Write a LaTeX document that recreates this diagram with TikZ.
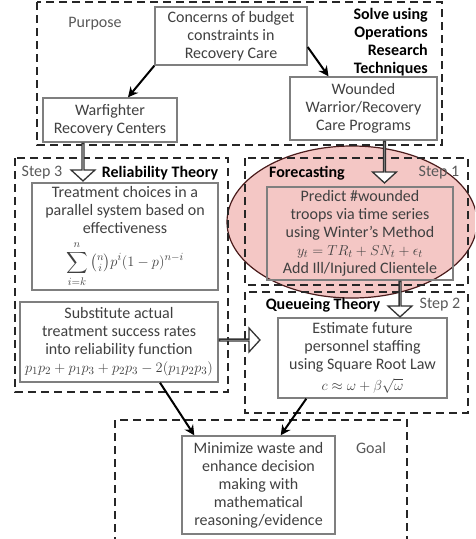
\documentclass[tikz,border=0pt]{standalone}
\usepackage{amsmath, amssymb}
\usepackage{fontspec}
\setmainfont{Carlito}
\usepackage{tikz}
\usetikzlibrary{arrows.meta, positioning, calc, shapes.arrows}
\definecolor{boxc}{HTML}{7F7F7F}
\definecolor{txtc}{HTML}{404040}
\definecolor{lblc}{HTML}{595959}
\definecolor{ellc}{HTML}{F4C7C5}
\definecolor{elld}{HTML}{4A1C1C}
\newcommand{\fatarrow}[2]{%
  \path let \p1=($(#2)-(#1)$), \n1={veclen(\x1,\y1)} in
    (#1) -- (#2) node[fatarr, pos=0, sloped, allow upside down,
      anchor=tail, minimum height=\n1] {};
}
\newcommand{\formula}{\fontsize{15}{17}\selectfont}

\begin{document}
\begin{tikzpicture}[x=1pt, y=-1pt, >={Stealth[length=10pt, width=10pt]},
    font=\fontsize{16}{18}\selectfont,
    box/.style={draw=boxc, text=txtc, align=center, inner sep=1pt,
      line width=1.4pt},
    region/.style={draw=black!85, line width=2pt, dash pattern=on 8pt off 5pt},
    plainlbl/.style={text=lblc, inner sep=0pt},
    boldlbl/.style={font=\fontsize{16}{18}\selectfont\bfseries, inner sep=0pt},
    fatarr/.style={single arrow, draw=black!80, fill=white, line width=1.3pt,
      minimum width=24pt, single arrow head extend=8pt,
      single arrow tip angle=95, inner sep=0pt},
    link/.style={->, black, line width=2pt}]
  \useasboundingbox (0,0) rectangle (475,539);
  \clip (0,0) rectangle (475,539);

  % highlighted forecasting step
  \draw[fill=ellc, draw=elld, line width=1.2pt]
    (352,222) ellipse [x radius=125, y radius=76];

  % dashed groups
  \draw[region] (37,2) rectangle (442,145);
  \draw[region] (15,158) rectangle (228,392);
  \draw[region] (245,158) rectangle (468,285);
  \draw[region] (245,292) rectangle (468,413);
  \draw[region] (115,545) -- (115,420) -- (407,420) -- (407,545);

  % group labels
  \node[plainlbl] (purpose) at (95,24) {Purpose};
  \node[boldlbl, align=right, anchor=east] (solve) at (428,42.5)
    {Solve using\\Operations\\Research\\Techniques};
  \node[plainlbl] (step3) at (42,173) {Step 3};
  \node[boldlbl] (relia) at (160,173) {Reliability Theory};
  \node[boldlbl] (forec) at (307,173) {Forecasting};
  \node[plainlbl] (step1) at (439,173) {Step 1};
  \node[boldlbl] (queue) at (323,305) {Queueing Theory};
  \node[plainlbl] (step2) at (440,305) {Step 2};
  \node[plainlbl] (goal) at (371,448) {Goal};

  % boxes
  \node[box, minimum width=152, minimum height=58] (concerns) at (231,36)
    {Concerns of budget\\constraints in\\Recovery Care};
  \node[box, minimum width=134, minimum height=44] (warf) at (110,120)
    {Warfighter\\Recovery Centers};
  \node[box, minimum width=147, minimum height=63] (wound) at (363.5,108.5)
    {Wounded\\Warrior/Recovery\\Care Programs};
  \node[box, minimum width=186, minimum height=107] (treat) at (125,236.5)
    {Treatment choices in a\\parallel system based on\\effectiveness\\[7pt]
     {\formula$\displaystyle\sum_{i=k}^{n}\tbinom{n}{i}p^i(1-p)^{n-i}$}};
  \node[box, minimum width=198, minimum height=80] (subst) at (119,342)
    {Substitute actual\\treatment success rates\\into reliability function\\
     {\formula$p_1p_2+p_1p_3+p_2p_3-2(p_1p_2p_3)$}};
  \node[box, minimum width=186, minimum height=93] (predict) at (360,233.5)
    {Predict \#wounded\\troops via time series\\using Winter’s Method\\
     {\formula$y_t=TR_t+SN_t+\epsilon_t$}\\Add Ill/Injured Clientele};
  \node[box, minimum width=169, minimum height=80] (estim) at (362.5,358)
    {Estimate future\\personnel staffing\\using Square Root Law\\[3pt]
     {\formula$c\approx\omega+\beta\sqrt{\omega}$}};
  \node[box, minimum width=153, minimum height=98] (minim) at (258.5,485)
    {Minimize waste and\\enhance decision\\making with\\mathematical\\reasoning/evidence};

  % solid arrows
  \draw[link] (concerns.south west) -- ([xshift=18pt]warf.north);
  \draw[link] ([yshift=-11pt]concerns.east) -- ([xshift=-35pt]wound.north);
  \draw[link] ([xshift=41pt]subst.south) -- ([xshift=13pt]minim.north west);
  \draw[link] ([xshift=29pt]estim.south west) -- ([xshift=-55pt]minim.north east);

  % hollow arrows
  \fatarrow{[xshift=-27pt]warf.south}{[xshift=-27pt,yshift=2pt]warf.south |- treat.north}
  \fatarrow{[xshift=21pt]wound.south}{[xshift=21pt,yshift=4pt]wound.south |- predict.north}
  \fatarrow{[xshift=40pt]predict.south}{[xshift=40pt,yshift=1pt]predict.south |- estim.north}
  \fatarrow{[yshift=2pt]subst.east}{[xshift=-18pt,yshift=2pt]subst.east -| estim.west}
\end{tikzpicture}
\end{document}
